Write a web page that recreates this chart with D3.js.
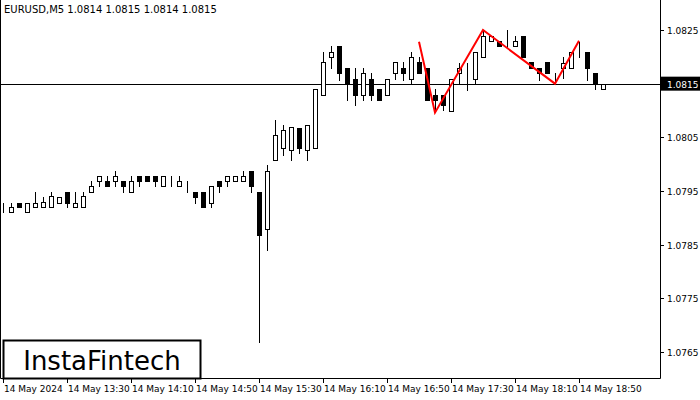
<!DOCTYPE html>
<html><head><meta charset="utf-8">
<script src="https://cdn.jsdelivr.net/npm/d3@7"></script>
<style>body{margin:0;background:#fff}text{font-family:"DejaVu Sans",sans-serif}</style>
</head><body><svg id="c" width="700" height="400"></svg>
<script>
// OHLC per 5-minute bar
const opens  = [1.07920,1.07911,1.07928,1.07911,1.07920,1.07920,1.07920,1.07928,1.07948,1.07920,1.07920,1.07948,1.07969,1.07969,1.07969,1.07969,1.07948,1.07978,1.07978,1.07978,1.07959,1.07969,1.07959,1.07959,1.07948,1.07948,1.07928,1.07969,1.07969,1.07969,1.07969,1.07987,1.07948,1.07879,1.08008,1.08030,1.08026,1.08067,1.08026,1.08030,1.08129,1.08200,1.08220,1.08179,1.08159,1.08129,1.08159,1.08140,1.08129,1.08170,1.08179,1.08159,1.08190,1.08179,1.08129,1.08129,1.08099,1.08170,1.08170,1.08159,1.08200,1.08230,1.08230,1.08230,1.08220,1.08239,1.08190,1.08179,1.08190,1.08150,1.08179,1.08179,1.08209,1.08209,1.08170,1.08140];
const highs  = [1.07928,1.07928,1.07928,1.07928,1.07948,1.07939,1.07948,1.07939,1.07948,1.07948,1.07948,1.07969,1.07978,1.07978,1.07987,1.07969,1.07978,1.07978,1.07978,1.07978,1.07978,1.07978,1.07978,1.07969,1.07948,1.07948,1.07959,1.07969,1.07978,1.07978,1.07987,1.07987,1.07948,1.07999,1.08082,1.08073,1.08069,1.08067,1.08073,1.08140,1.08209,1.08220,1.08220,1.08179,1.08179,1.08179,1.08170,1.08140,1.08159,1.08190,1.08190,1.08209,1.08200,1.08179,1.08140,1.08129,1.08159,1.08188,1.08188,1.08209,1.08250,1.08239,1.08230,1.08250,1.08239,1.08239,1.08190,1.08179,1.08190,1.08170,1.08200,1.08209,1.08228,1.08209,1.08170,1.08150];
const lows   = [1.07911,1.07911,1.07920,1.07911,1.07920,1.07920,1.07920,1.07928,1.07920,1.07920,1.07920,1.07948,1.07959,1.07959,1.07959,1.07948,1.07948,1.07959,1.07969,1.07959,1.07959,1.07959,1.07959,1.07948,1.07928,1.07920,1.07920,1.07948,1.07959,1.07969,1.07969,1.07948,1.07669,1.07840,1.08008,1.08017,1.08008,1.08020,1.08008,1.08030,1.08129,1.08179,1.08157,1.08120,1.08110,1.08120,1.08120,1.08120,1.08129,1.08159,1.08157,1.08150,1.08170,1.08120,1.08101,1.08101,1.08099,1.08152,1.08138,1.08150,1.08200,1.08230,1.08220,1.08218,1.08220,1.08200,1.08179,1.08157,1.08170,1.08150,1.08161,1.08179,1.08200,1.08157,1.08140,1.08140];
const closes = [1.07920,1.07920,1.07920,1.07928,1.07928,1.07930,1.07941,1.07939,1.07928,1.07928,1.07941,1.07959,1.07978,1.07959,1.07978,1.07959,1.07969,1.07969,1.07969,1.07969,1.07978,1.07969,1.07969,1.07959,1.07939,1.07920,1.07959,1.07959,1.07978,1.07978,1.07978,1.07959,1.07868,1.07987,1.08054,1.08064,1.08069,1.08030,1.08073,1.08140,1.08190,1.08209,1.08170,1.08150,1.08129,1.08170,1.08129,1.08120,1.08159,1.08190,1.08170,1.08200,1.08170,1.08120,1.08120,1.08110,1.08159,1.08179,1.08170,1.08209,1.08239,1.08239,1.08220,1.08230,1.08230,1.08200,1.08179,1.08170,1.08170,1.08150,1.08188,1.08209,1.08209,1.08179,1.08150,1.08150];
const priceTicks = [1.0825,1.0815,1.0805,1.0795,1.0785,1.0775,1.0765];
const timeLabels = ["14 May 2024","14 May 13:30","14 May 14:10","14 May 14:50","14 May 15:30","14 May 16:10","14 May 16:50","14 May 17:30","14 May 18:10","14 May 18:50"];
const timeBars = [0,8,16,24,32,40,48,56,64,72];
const pattern = [[52,1.08228],[54,1.08096],[60,1.08250],[69,1.08150],[72,1.08230]];
const lastPrice = 1.0815;

const svg = d3.select("#c");
const W = 660, H = 378;
const x = d3.scaleLinear().domain([0, 75]).range([3, 603]);
const y = d3.scaleLinear().domain([1.0765, 1.0825]).range([352, 30]);

svg.append("text").attr("x", 4).attr("y", 13).attr("font-size", 10).text("EURUSD,M5  1.0814 1.0815 1.0814 1.0815");

// frame
svg.append("path").attr("d", `M0.5,0 V${H}.5 H${W}.5 V0`).attr("fill", "none").attr("stroke", "#000");

// current price line
svg.append("line").attr("x1", 0).attr("x2", W).attr("y1", Math.round(y(lastPrice)) + 0.5).attr("y2", Math.round(y(lastPrice)) + 0.5).attr("stroke", "#000");

const bars = d3.range(opens.length);
const g = svg.append("g");
g.selectAll("line.wick").data(bars).join("line")
  .attr("x1", i => Math.round(x(i)) + 0.5).attr("x2", i => Math.round(x(i)) + 0.5)
  .attr("y1", i => Math.round(y(highs[i]))).attr("y2", i => Math.round(y(lows[i])) + 1)
  .attr("stroke", "#000");
g.selectAll("rect").data(bars).join("rect")
  .attr("x", i => Math.round(x(i)) - 2 + 0.5)
  .attr("width", 4)
  .attr("y", i => Math.round(y(Math.max(opens[i], closes[i]))) + 0.5)
  .attr("height", i => Math.max(0, Math.round(y(Math.min(opens[i], closes[i]))) - Math.round(y(Math.max(opens[i], closes[i])))))
  .attr("fill", i => closes[i] < opens[i] ? "#000" : "#fff")
  .attr("stroke", "#000");

// pattern
svg.append("path").datum(pattern)
  .attr("d", d3.line().x(d => x(d[0])).y(d => y(d[1])))
  .attr("fill", "none").attr("stroke", "#f00").attr("stroke-width", 2);

// price axis
const pa = svg.append("g");
pa.selectAll("line").data(priceTicks).join("line")
  .attr("x1", W).attr("x2", W + 4).attr("y1", d => Math.round(y(d)) + 0.5).attr("y2", d => Math.round(y(d)) + 0.5).attr("stroke", "#000");
pa.selectAll("text").data(priceTicks.filter(d => d !== lastPrice)).join("text")
  .attr("x", 667).attr("y", d => y(d) + 4).attr("font-size", 9).text(d => d.toFixed(4));
svg.append("rect").attr("x", W + 1).attr("y", y(lastPrice) - 7).attr("width", 39).attr("height", 14).attr("fill", "#000");
svg.append("text").attr("x", 667).attr("y", y(lastPrice) + 4).attr("font-size", 9).attr("fill", "#fff").text(lastPrice.toFixed(4));

// time axis
const ta = svg.append("g");
ta.selectAll("line").data(timeBars).join("line")
  .attr("x1", i => Math.round(x(i)) + 0.5).attr("x2", i => Math.round(x(i)) + 0.5).attr("y1", H).attr("y2", H + 5).attr("stroke", "#000");
ta.selectAll("text").data(timeBars).join("text")
  .attr("x", i => x(i) + 1).attr("y", 392).attr("font-size", 9).text((d, k) => timeLabels[k]);

// logo
svg.append("rect").attr("x", 3.5).attr("y", 340.5).attr("width", 197).attr("height", 38).attr("fill", "#fff").attr("stroke", "#000").attr("stroke-width", 2);
svg.append("text").attr("x", 102).attr("y", 370).attr("text-anchor", "middle").attr("font-size", 26).attr("font-family", "Roboto, sans-serif").text("InstaFintech");
</script></body></html>
